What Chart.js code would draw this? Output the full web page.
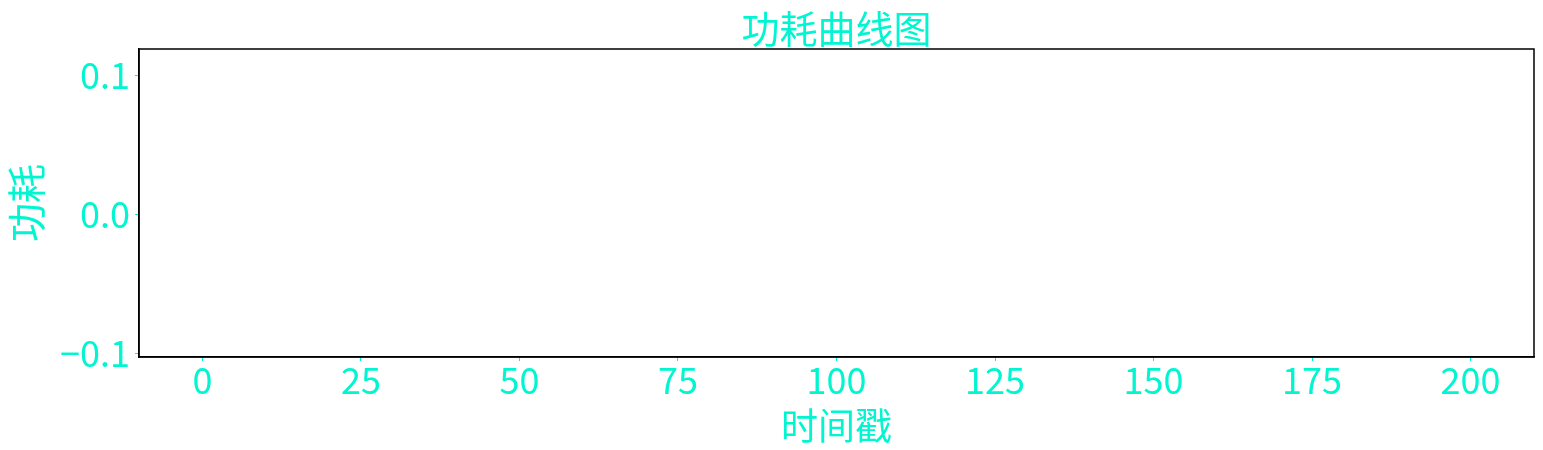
<!DOCTYPE html>
<html>
<head>
<meta charset="utf-8">
<script src="https://cdn.jsdelivr.net/npm/chart.js@4.4.1/dist/chart.umd.min.js"></script>
<style>
html, body { margin: 0; padding: 0; background: #fff; }
</style>
</head>
<body>
<canvas id="powerChart" width="1543" height="450"></canvas>
<script>
// Labels
const chartTitle = "功耗曲线图";
const xTitle = "时间戳";
const yTitle = "功耗";

// Series (the source figure shows an empty plot, no points drawn)
const timestamps = [];
const powerValues = [];

// Axis ticks / ranges
const xTicks = [0, 25, 50, 75, 100, 125, 150, 175, 200];
const yTicks = [-0.1, 0, 0.1];
const yTickLabels = ["−0.1", "0.0", "0.1"];
const xRange = [-10, 210];
const yRange = [-0.1027, 0.1187];

const cyan = "#00f5d0";
const fontFamily = "'Noto Sans CJK SC', 'Noto Sans', sans-serif";

// black frame round the plot + title centred over the plot area
const frameAndTitle = {
    id: "frameAndTitle",
    afterDraw(chart) {
        const { ctx, chartArea: a } = chart;
        ctx.save();
        ctx.strokeStyle = "#000";
        ctx.lineWidth = 1.5;
        ctx.strokeRect(a.left, a.top, a.right - a.left, a.bottom - a.top);
        ctx.fillStyle = cyan;
        ctx.font = "38px " + fontFamily;
        ctx.textAlign = "center";
        ctx.textBaseline = "middle";
        ctx.fillText(chartTitle, (a.left + a.right) / 2, 29);
        ctx.restore();
    }
};

new Chart(document.getElementById("powerChart"), {
    type: "line",
    data: {
        datasets: [{
            label: yTitle,
            data: timestamps.map((t, i) => ({ x: t, y: powerValues[i] })),
            borderColor: "#1f77b4",
            borderWidth: 1.5,
            pointRadius: 0
        }]
    },
    options: {
        responsive: false,
        animation: false,
        layout: { padding: { top: 49, right: 9, left: 0, bottom: 0 } },
        plugins: {
            legend: { display: false },
            tooltip: { enabled: false },
            title: { display: false }
        },
        scales: {
            x: {
                type: "linear",
                min: xRange[0],
                max: xRange[1],
                afterBuildTicks: s => { s.ticks = xTicks.map(v => ({ value: v })); },
                afterFit: s => { s.height = 93; },
                grid: { drawOnChartArea: false, color: cyan, tickLength: 4, lineWidth: 1 },
                border: { color: "#000", width: 1.5 },
                ticks: {
                    color: cyan,
                    font: { family: fontFamily, size: 36 },
                    padding: -2,
                    maxRotation: 0,
                    autoSkip: false
                },
                title: {
                    display: true,
                    text: xTitle,
                    color: cyan,
                    font: { family: fontFamily, size: 37 },
                    padding: { top: 0, bottom: 2 }
                }
            },
            y: {
                type: "linear",
                min: yRange[0],
                max: yRange[1],
                afterBuildTicks: s => { s.ticks = yTicks.map(v => ({ value: v })); },
                afterFit: s => { s.width = 139; },
                grid: { drawOnChartArea: false, color: cyan, tickLength: 4, lineWidth: 1 },
                border: { color: "#000", width: 1.5 },
                ticks: {
                    color: cyan,
                    font: { family: fontFamily, size: 36 },
                    padding: 5,
                    callback: v => yTickLabels[yTicks.indexOf(v)]
                },
                title: {
                    display: true,
                    text: yTitle,
                    color: cyan,
                    font: { family: fontFamily, size: 39 },
                    padding: { top: 3, bottom: 0 }
                }
            }
        }
    },
    plugins: [frameAndTitle]
});
</script>
</body>
</html>
